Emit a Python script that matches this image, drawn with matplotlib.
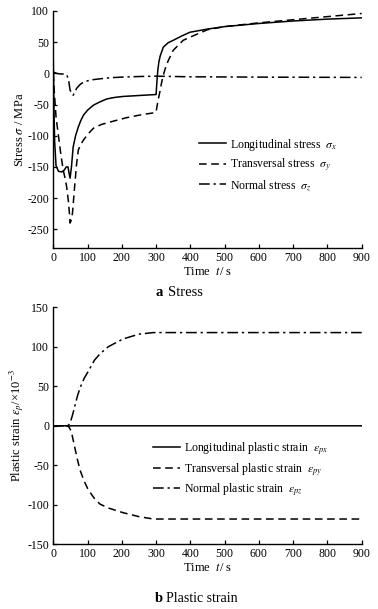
import matplotlib
matplotlib.use("Agg")
import matplotlib.pyplot as plt

plt.rcParams['font.family'] = ['Liberation Serif', 'DejaVu Serif']
plt.rcParams['mathtext.fontset'] = 'stix'

# ---- Stress data (a) ----
t_sx = [0, 2, 4, 8, 15, 25, 32, 38, 43, 46, 49, 53, 58, 65, 73, 80, 88, 100, 117, 135, 156, 180, 204, 250, 297, 300, 302, 305, 308, 312, 321, 335, 350, 375, 399, 450, 500, 600, 700, 800, 900]
sx = [20, -60, -110, -148, -157, -158, -155, -150, -150, -160, -168, -150, -118, -100, -86, -76, -67, -59, -51, -46, -41, -38.5, -37, -35.5, -34, -34, -16, 5, 18, 28, 42, 49, 53, 60, 66, 71, 75, 80, 84, 87, 89]

t_sy = [0, 3, 8, 15, 22, 29, 35, 39, 44, 47, 49, 52, 56, 62, 68, 73, 80, 88, 100, 117, 140, 166, 214, 260, 297, 300, 302, 307, 312, 316, 321, 328, 336, 350, 379, 399, 450, 500, 550, 600, 700, 800, 900]
sy = [0, -30, -70, -100, -130, -155, -170, -182, -205, -224, -240, -236, -224, -183, -145, -123, -114, -107, -98, -88, -82, -78, -71, -66, -63, -62, -55, -40, -27, -15, -3, 10, 21, 37, 53, 58, 70, 75, 78, 81, 86, 91, 96]

t_sz = [0, 10, 20, 35, 40, 45, 49, 54, 58, 62, 68, 78, 88, 100, 117, 140, 166, 200, 253, 300, 400, 600, 900]
sz = [2, 0, -1, -1, -3, -12, -27, -32, -35, -31, -24, -18, -14, -12, -10, -8.5, -7, -6, -5, -4.5, -5.5, -6, -6.5]

# ---- Plastic strain data (b) ----
t_ep = [0, 40, 45, 50, 55, 60, 70, 78, 90, 102, 120, 136, 160, 204, 250, 292, 350, 500, 700, 900]
epx = [0, 0, -1, 0, 0, 0, 0, 0, 0, 0, 0, 0, 0, 0, 0, 0, 0, 0, 0, 0]
epy = [0, 0, -1, -5, -12, -22, -42, -56, -70, -81, -92, -99, -104, -110, -115, -118, -118, -118, -118, -118]
epz = [0, 0, 1, 5, 12, 20, 37, 48, 60, 69, 83, 91, 100, 110, 116, 118, 118, 118, 118, 118]

xticks = [0, 100, 200, 300, 400, 500, 600, 700, 800, 900]
yticks_a = [-250, -200, -150, -100, -50, 0, 50, 100]
yticks_b = [-150, -100, -50, 0, 50, 100, 150]

W, H = 378, 609
fig = plt.figure(figsize=(W / 100, H / 100), dpi=100)

def axes_px(left, top, right, bottom):
    return fig.add_axes([left / W, 1 - bottom / H, (right - left) / W, (bottom - top) / H])

ax1 = axes_px(53.3, 11, 361.7, 248)
ax2 = axes_px(53.3, 307.3, 361.7, 544.3)

dash = (0, (5, 3))
dashdot = (0, (7, 2.5, 1.5, 2.5))
lw = 1.1

ax1.plot(t_sx, sx, color='black', lw=lw, ls='-', label=r'Longitudinal stress  $\sigma_x$')
ax1.plot(t_sy, sy, color='black', lw=lw, ls=dash, label=r'Transversal stress  $\sigma_y$')
ax1.plot(t_sz, sz, color='black', lw=lw, ls=dashdot, label=r'Normal stress  $\sigma_z$')

ax2.plot(t_ep, epx, color='black', lw=lw, ls='-', label=r'Longitudinal plastic strain  $\varepsilon_{px}$')
ax2.plot(t_ep, epy, color='black', lw=lw, ls=dash, label=r'Transversal plastic strain  $\varepsilon_{py}$')
ax2.plot(t_ep, epz, color='black', lw=lw, ls=dashdot, label=r'Normal plastic strain  $\varepsilon_{pz}$')

for ax, yt, ylim in [(ax1, yticks_a, (-280, 100)), (ax2, yticks_b, (-150, 150))]:
    ax.set_xlim(0, 900)
    ax.set_ylim(*ylim)
    ax.set_xticks(xticks)
    ax.set_yticks(yt)
    ax.set_yticklabels([str(v) for v in yt])
    ax.spines['top'].set_visible(False)
    ax.spines['right'].set_visible(False)
    ax.spines['left'].set_linewidth(1.0)
    ax.spines['bottom'].set_linewidth(1.0)
    ax.tick_params(direction='in', length=3, width=0.9, labelsize=8.5, pad=3)
    ax.set_xlabel(r'Time  $t$/ s', fontsize=9, labelpad=1)
    ax.patch.set_alpha(0)

ax1.set_ylabel(r'Stress $\sigma$ / MPa', fontsize=9, labelpad=1)
ax2.set_ylabel(r'Plastic strain $\varepsilon_p$/×10$^{-3}$', fontsize=9, labelpad=1)

leg1 = ax1.legend(loc='upper left', bbox_to_anchor=(0.452, 0.495), frameon=False,
                  fontsize=8.5, handlelength=2.3, handletextpad=0.4, labelspacing=0.34, borderpad=0)
leg2 = ax2.legend(loc='upper left', bbox_to_anchor=(0.305, 0.465), frameon=False,
                  fontsize=8.5, handlelength=2.3, handletextpad=0.3, labelspacing=0.3, borderpad=0)

fig.text(163 / W, 1 - 293 / H, 'a', fontsize=10.5, ha='right', va='center', fontweight='bold')
fig.text(168 / W, 1 - 293 / H, 'Stress', fontsize=10.5, ha='left', va='center')
fig.text(163 / W, 1 - 598 / H, 'b', fontsize=10.5, ha='right', va='center', fontweight='bold')
fig.text(166 / W, 1 - 598 / H, 'Plastic strain', fontsize=10, ha='left', va='center')

fig.savefig('out.png', dpi=100)
